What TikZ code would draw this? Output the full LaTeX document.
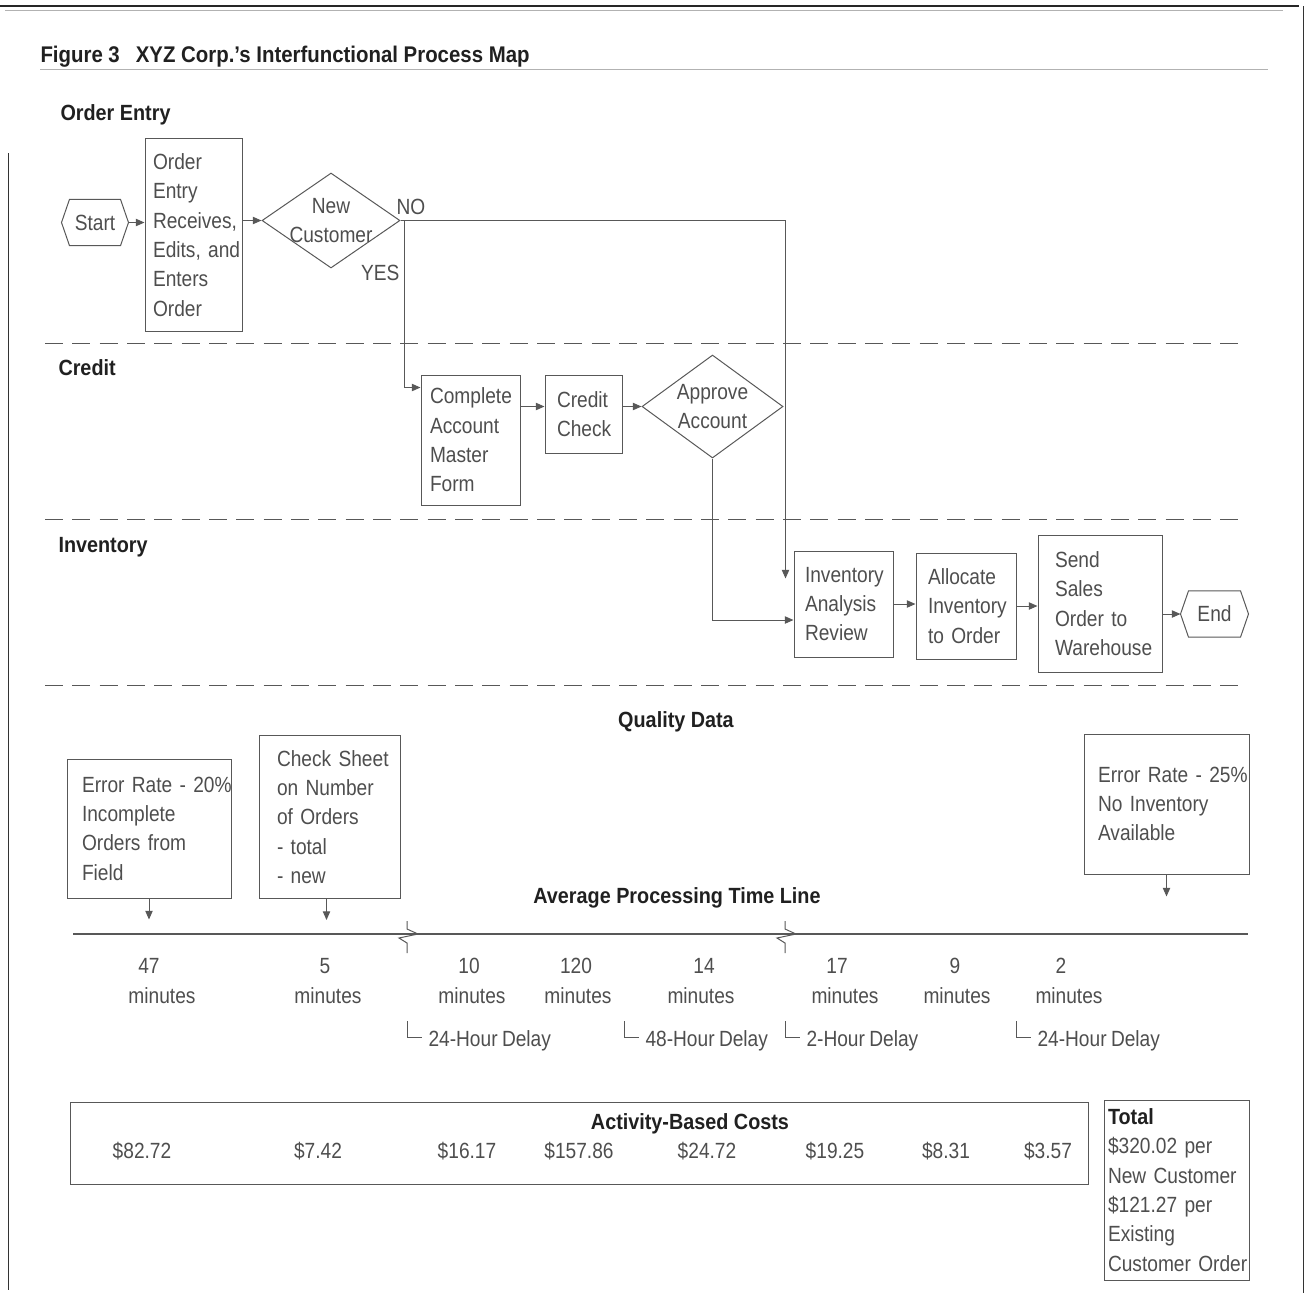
\documentclass[tikz,border=0pt]{standalone}
\usepackage{fontspec}
\setmainfont{Liberation Sans}[FakeStretch=0.87]
\newfontfamily\headfont{Liberation Sans}[FakeStretch=0.9]
\usetikzlibrary{shapes.geometric,arrows.meta,calc}

\definecolor{inkgray}{RGB}{78,78,78}
\definecolor{linegray}{RGB}{88,88,88}
\definecolor{headblack}{RGB}{32,32,32}
\definecolor{rulegray}{RGB}{178,178,178}

\hyphenpenalty=10000
\exhyphenpenalty=10000
\newcommand{\bodytext}{\fontsize{16.5}{22}\selectfont\spaceskip=0.2em}
\newcommand{\headtext}{\headfont\bfseries\fontsize{16.5}{20}\selectfont}
\newcommand{\hexframe}[1]{\draw [linegray] (#1.west) -- ($(#1.north west)+(8,0)$) -- ($(#1.north east)+(-8,0)$) -- (#1.east) -- ($(#1.south east)+(-8,0)$) -- ($(#1.south west)+(8,0)$) -- cycle ;}

\tikzset{every picture/.style={line width=0.75pt}}
\tikzset{
  procbox/.style={draw=linegray, text=inkgray, font=\bodytext, align=left, inner ysep=0pt},
  decision/.style={diamond, draw=linegray, text=inkgray, font=\bodytext, align=center, inner sep=-12pt},
  terminal/.style={text=inkgray, font=\bodytext, inner sep=0pt, minimum height=34pt},
  lanehead/.style={text=headblack, font=\headtext, anchor=base west, inner sep=0pt},
  plaintext/.style={text=inkgray, font=\bodytext, inner sep=0pt},
  flow/.style={draw=linegray, -{Triangle[length=6.5pt,width=5.5pt]}},
  lanedash/.style={draw=linegray, dash pattern=on 13.5pt off 7pt},
}

\begin{document}
\begin{tikzpicture}[x=0.75pt,y=0.75pt,yscale=-1,xscale=1]
\useasboundingbox (0,0) rectangle (1309,1293);

%Page frame
\draw [line width=1.5pt, black!85] (0,6) -- (1299,6) ;
\draw [rulegray] (5,10) -- (1283,10) ;
\draw [black!80] (1303,6) -- (1303,1293) ;
\draw [black!80] (8,153) -- (8,1290) ;
\draw [rulegray] (40,69) -- (1268,69) ;

% Text Node
\node [lanehead, font=\headfont\bfseries\fontsize{17}{20}\selectfont] (title) at (40,62) {Figure 3\hspace{12pt}XYZ Corp.’s Interfunctional Process Map};
\node [lanehead] (laneorder) at (60,120) {Order Entry};
\node [lanehead] (lanecredit) at (58,375) {Credit};
\node [lanehead] (laneinv) at (58,552) {Inventory};

%Dashed lane separators
\foreach \ly in {343,519,685}
  \draw [lanedash] (45,\ly) -- (1238,\ly) ;

%Shape: Hexagon
\node [terminal, minimum width=49.5pt] (start) at (95,222.5) {Start};
\hexframe{start}
%Shape: Rectangle
\node [procbox, text width=60.75pt, inner xsep=6pt, minimum height=144.75pt] (oe) at (193.5,235) {Order\\Entry\\Receives,\\Edits,~and\\Enters\\Order};
%Shape: Diamond
\node [decision, minimum width=103.5pt, minimum height=71.25pt] (ncust) at (331,220.5) {New\\Customer};
%Shape: Rectangle
\node [procbox, text width=60.75pt, inner xsep=6.75pt, minimum height=97.5pt] (camf) at (470.5,440) {Complete\\Account\\Master\\Form};
\node [procbox, text width=39.75pt, inner xsep=9pt, minimum height=58.5pt] (cc) at (583.5,414) {Credit\\Check};
%Shape: Diamond
\node [decision, minimum width=105.75pt, minimum height=77.25pt] (appr) at (712.5,406.5) {Approve\\Account};
%Shape: Rectangle
\node [procbox, text width=57.75pt, inner xsep=8.25pt, minimum height=79.5pt] (iar) at (843.5,604) {Inventory\\Analysis\\Review};
\node [procbox, text width=57pt, inner xsep=9pt, minimum height=79.5pt] (aio) at (966,606) {Allocate\\Inventory\\to~Order};
\node [procbox, text width=67.5pt, inner xsep=12.75pt, minimum height=102.75pt] (ssow) at (1100,603.5) {Send\\Sales\\Order~to\\Warehouse};
%Shape: Hexagon
\node [terminal, minimum width=50.25pt] (finish) at (1214.5,614) {End};
\hexframe{finish}

%Straight Lines
\draw [flow] (start.east) -- (start.east -| oe.west) ;
\draw [flow] (oe.east |- ncust.west) -- (ncust.west) ;
\draw [flow] (ncust.east) -| ($(iar.north west)+(-8,28)$) ;
\draw [flow] ($(ncust.east)+(4,0)$) |- ($(camf.north west)+(0,13)$) ;
\draw [flow] (camf.east |- appr.west) -- (cc.west |- appr.west) ;
\draw [flow] (cc.east |- appr.west) -- (appr.west) ;
\draw [flow] (appr.south) |- ($(iar.west)+(0,16)$) ;
\draw [flow] (iar.east) -- (iar.east -| aio.west) ;
\draw [flow] (aio.east) -- (aio.east -| ssow.west) ;
\draw [flow] (ssow.east |- finish.west) -- (finish.west) ;

% Text Node
\node [plaintext, anchor=west] (nolbl) at (396,207) {NO};
\node [plaintext, anchor=east] (yeslbl) at (400,273) {YES};

% Quality data
\node [lanehead, anchor=base] (quality) at (676,727) {Quality Data};
\node [procbox, text width=100.5pt, inner xsep=11.25pt, minimum height=104.25pt] (err20) at (149,828.5) {Error~Rate~-~20\%\\Incomplete\\Orders~from\\Field};
\node [procbox, text width=78.75pt, inner xsep=13.5pt, minimum height=122.25pt] (chk) at (329.5,817) {Check~Sheet\\on~Number\\of~Orders\\-~total\\-~new};
\node [procbox, text width=102.75pt, inner xsep=10.5pt, minimum height=105pt] (err25) at (1166.5,804) {Error~Rate~-~25\%\\No~Inventory\\Available};
\draw [flow] (err20.south) -- ++(0,21) ;
\draw [flow] ($(chk.south)+(-3,0)$) -- ++(0,21) ;
\draw [flow] (err25.south) -- ++(0,22) ;

% Time line
\node [lanehead, anchor=base] (timeline) at (677,903) {Average Processing Time Line};
\draw [linegray, line width=1pt] (73,934) -- (1248,934) ;
\foreach \bx in {407,785}
  \draw [linegray] (\bx,921) -- (\bx,929) -- (\bx+11,934) -- (\bx-8,938) -- (\bx,943) -- (\bx,953) ;
\foreach \nx/\mx/\val [count=\i] in {149/162/47, 325/328/5, 469/472/10, 576/578/120, 704/701/14, 837/845/17, 955/957/9, 1061/1069/2}{
  \node [plaintext] (num\i) at (\nx,966) {\val};
  \node [plaintext] (min\i) at (\mx,996) {minutes};
}
\foreach \bx/\dtext [count=\i] in {407/24-Hour Delay, 624/48-Hour Delay, 785/2-Hour Delay, 1016/24-Hour Delay}{
  \node [plaintext, anchor=west] (dly\i) at (\bx+21,1041) {\dtext};
  \draw [linegray] (\bx,1021) |- (\bx+15,1037) ;
}

% Activity-based costs
\node [draw=linegray, minimum width=763.5pt, minimum height=61.5pt, inner sep=0pt] (costbox) at (579,1143) {};
\node [lanehead, anchor=base] (abc) at (690,1129) {Activity-Based Costs};
\foreach \cx/\cost [count=\i] in {142/\$82.72, 318/\$7.42, 467/\$16.17, 579/\$157.86, 707/\$24.72, 835/\$19.25, 946/\$8.31, 1048/\$3.57}
  \node [plaintext] (cost\i) at (\cx,1151) {\cost};
\node [procbox, text width=102.75pt, inner xsep=3pt, minimum height=135pt] (total) at (1176.5,1190) {{\headtext\color{headblack}Total}\\\$320.02~per\\New~Customer\\\$121.27~per\\Existing\\Customer~Order};

\end{tikzpicture}
\end{document}
